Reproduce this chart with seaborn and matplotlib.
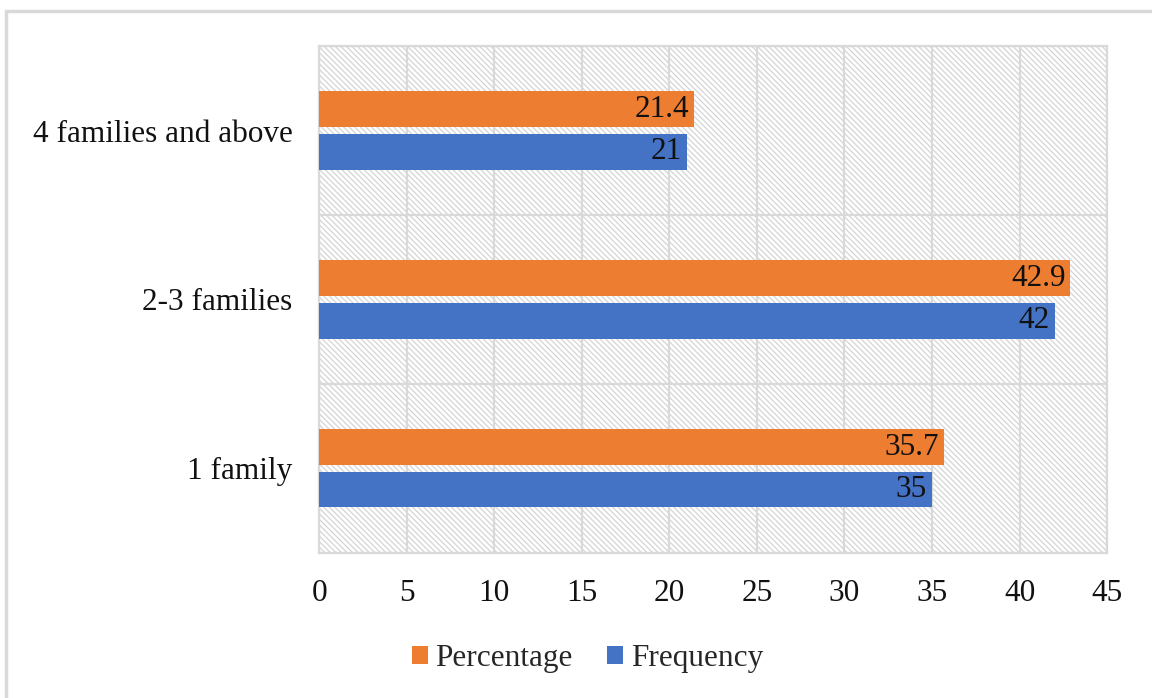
import matplotlib
matplotlib.use("Agg")
import matplotlib.pyplot as plt
from matplotlib.patches import Rectangle
import pandas as pd
import seaborn as sns

# Household composition data
categories = ["4 families and above", "2-3 families", "1 family"]
percentage = [21.4, 42.9, 35.7]
frequency = [21, 42, 35]
series_names = ["Percentage", "Frequency"]
series_colors = ["#ED7D31", "#4472C4"]
x_ticks = [0, 5, 10, 15, 20, 25, 30, 35, 40, 45]

df = pd.DataFrame({
    "category": categories * 2,
    "series": [series_names[0]] * len(categories) + [series_names[1]] * len(categories),
    "value": percentage + frequency,
})

sns.set_theme(style="white")
plt.rcParams["font.family"] = ["Liberation Serif", "DejaVu Serif"]
plt.rcParams["hatch.linewidth"] = 0.9

grid_color = "#d9d9d9"
text_color = "#111111"
fs = 22.5

fig = plt.figure(figsize=(11.52, 6.98), dpi=100)
ax = fig.add_axes([0.277, 0.208, 0.684, 0.726])

# hatched plot-area background
bg = Rectangle((0, 0), 1, 1, transform=ax.transAxes, facecolor="white",
               edgecolor="#d4d4d4", hatch="\\" * 6, linewidth=0, zorder=0)
ax.add_patch(bg)

sns.barplot(data=df, y="category", x="value", hue="series", order=categories,
            hue_order=series_names, palette=series_colors, width=0.5, gap=0.15,
            orient="h", saturation=1, linewidth=0, ax=ax, legend=True, zorder=3)

ax.set_xlim(0, 45)
ax.set_ylim(2.5, -0.5)
ax.set_xticks(x_ticks)
ax.set_xlabel("")
ax.set_ylabel("")

# grid: vertical at every 5, horizontal at category boundaries
ax.set_yticks([-0.5, 0.5, 1.5, 2.5], minor=True)
ax.xaxis.grid(True, color=grid_color, linewidth=1.6, zorder=1)
ax.yaxis.grid(True, which="minor", color=grid_color, linewidth=1.6, zorder=1)
ax.yaxis.grid(False, which="major")
ax.set_axisbelow(True)
ax.tick_params(axis="x", length=0, pad=19, labelsize=fs, labelcolor=text_color)
ax.tick_params(axis="y", which="major", length=0, pad=19, labelsize=fs, labelcolor=text_color)
ax.tick_params(axis="y", which="minor", length=6, width=1.6, color=grid_color)
for side in ["top", "right", "bottom", "left"]:
    ax.spines[side].set_visible(True)
    ax.spines[side].set_color(grid_color)
    ax.spines[side].set_linewidth(1.6)

# value labels at the end of each bar
for container in ax.containers:
    for bar in container:
        w = bar.get_width()
        yc = bar.get_y() + bar.get_height() / 2
        ax.annotate(f"{w:g}", xy=(w, yc), xytext=(-3.5, 0), textcoords="offset points",
                    ha="right", va="center", fontsize=fs, color=text_color, zorder=5)

handles, labels = ax.get_legend_handles_labels()
ax.get_legend().remove()
fig.legend(handles, labels, loc="center", bbox_to_anchor=(0.51, 0.056), ncol=2,
           frameon=False, fontsize=fs, handlelength=0.5, handleheight=0.5,
           handletextpad=0.25, columnspacing=1.1)

# light outer frame
fig.patches.append(Rectangle((0.0055, -0.2), 1.3, 0.984 + 0.2, transform=fig.transFigure,
                             facecolor="none", edgecolor="#d9d9d9", linewidth=2.5, zorder=0))

fig.savefig("out.png", dpi=100)
